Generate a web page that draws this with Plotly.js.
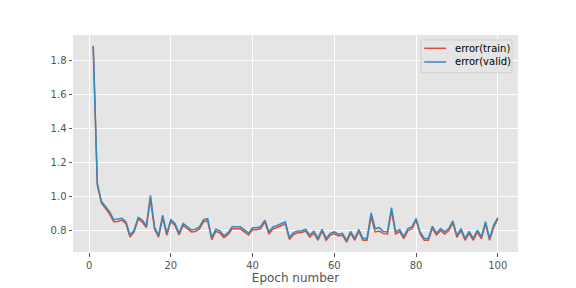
<!DOCTYPE html>
<html>
<head>
<meta charset="utf-8">
<script src="https://cdn.plot.ly/plotly-3.0.1.min.js"></script>
<style>html,body{margin:0;padding:0;background:#fff;}#chart{width:576px;height:288px;}</style>
</head>
<body>
<div id="chart"></div>
<script>
const epochs = Array.from({length: 100}, (_, i) => i + 1);
const errorValid = [
  1.885, 1.075, 0.970, 0.938, 0.909, 0.862, 0.864, 0.870, 0.850, 0.772,
  0.800, 0.876, 0.860, 0.825, 1.005, 0.818, 0.770, 0.889, 0.782, 0.862,
  0.840, 0.783, 0.840, 0.821, 0.802, 0.806, 0.820, 0.862, 0.868, 0.757,
  0.806, 0.796, 0.767, 0.786, 0.820, 0.820, 0.820, 0.802, 0.783, 0.815,
  0.815, 0.822, 0.860, 0.790, 0.820, 0.828, 0.840, 0.850, 0.757, 0.786,
  0.796, 0.796, 0.806, 0.771, 0.794, 0.752, 0.806, 0.752, 0.782, 0.790,
  0.777, 0.782, 0.741, 0.794, 0.752, 0.804, 0.752, 0.752, 0.902, 0.810,
  0.815, 0.792, 0.790, 0.933, 0.790, 0.804, 0.762, 0.810, 0.820, 0.869,
  0.790, 0.752, 0.752, 0.823, 0.784, 0.810, 0.790, 0.810, 0.855, 0.770,
  0.810, 0.752, 0.794, 0.752, 0.800, 0.762, 0.850, 0.752, 0.830, 0.875
];
const errorTrain = [
  1.880, 1.065, 0.960, 0.926, 0.895, 0.850, 0.852, 0.860, 0.838, 0.760,
  0.790, 0.866, 0.848, 0.815, 0.985, 0.806, 0.760, 0.875, 0.770, 0.852,
  0.828, 0.772, 0.830, 0.809, 0.790, 0.792, 0.808, 0.850, 0.856, 0.745,
  0.794, 0.784, 0.756, 0.775, 0.808, 0.808, 0.808, 0.790, 0.772, 0.803,
  0.803, 0.810, 0.850, 0.778, 0.808, 0.816, 0.828, 0.838, 0.746, 0.775,
  0.785, 0.786, 0.795, 0.760, 0.783, 0.741, 0.795, 0.741, 0.771, 0.779,
  0.766, 0.771, 0.730, 0.783, 0.741, 0.793, 0.741, 0.741, 0.880, 0.790,
  0.795, 0.780, 0.778, 0.915, 0.778, 0.792, 0.751, 0.798, 0.808, 0.858,
  0.778, 0.741, 0.741, 0.811, 0.772, 0.798, 0.778, 0.798, 0.843, 0.758,
  0.798, 0.741, 0.782, 0.741, 0.788, 0.750, 0.838, 0.741, 0.818, 0.865
];
const seriesNames = ['error(train)', 'error(valid)'];
const seriesColors = ['#E24A33', '#348ABD'];
const xTicks = [0, 20, 40, 60, 80, 100];
const yTicks = [0.8, 1.0, 1.2, 1.4, 1.6, 1.8];

const traces = [
  {x: epochs, y: errorTrain, name: seriesNames[0], type: 'scatter', mode: 'lines',
   line: {color: seriesColors[0], width: 1.5}},
  {x: epochs, y: errorValid, name: seriesNames[1], type: 'scatter', mode: 'lines',
   line: {color: seriesColors[1], width: 1.5}}
];

// Custom legend (matplotlib-like compact layout), in paper coordinates
const legendRows = [0.9387, 0.8756];
const shapes = [
  {type: 'rect', xref: 'paper', yref: 'paper', x0: 0.782, x1: 0.9865, y0: 0.826, y1: 0.977,
   fillcolor: '#E5E5E5', line: {color: '#cfcfcf', width: 1}, layer: 'above'}
];
const annotations = [];
seriesNames.forEach((name, i) => {
  shapes.push({type: 'line', xref: 'paper', yref: 'paper', x0: 0.7894, x1: 0.8382,
    y0: legendRows[i], y1: legendRows[i], line: {color: seriesColors[i], width: 1.5}, layer: 'above'});
  annotations.push({xref: 'paper', yref: 'paper', x: 0.853, y: legendRows[i],
    xanchor: 'left', yanchor: 'middle', text: name, showarrow: false,
    font: {family: 'DejaVu Sans, sans-serif', size: 10, color: '#000000'}});
});

const layout = {
  width: 576, height: 288,
  margin: {l: 73, r: 58, t: 35, b: 36, pad: 0},
  paper_bgcolor: '#ffffff',
  plot_bgcolor: '#E5E5E5',
  font: {family: 'DejaVu Sans, sans-serif', size: 10, color: '#555555'},
  showlegend: false,
  shapes: shapes,
  annotations: annotations,
  xaxis: {
    range: [-3.95, 104.95],
    tickvals: xTicks, ticktext: xTicks.map(String),
    ticks: 'outside', ticklen: 3.5, tickcolor: '#555555', tickwidth: 1,
    showgrid: true, gridcolor: '#ffffff', gridwidth: 1,
    zeroline: false, showline: false,
    tickfont: {size: 10, color: '#555555'},
    title: {text: 'Epoch number', font: {size: 12, color: '#555555'}, standoff: 4}
  },
  yaxis: {
    range: [0.672, 1.948],
    tickvals: yTicks, ticktext: yTicks.map(v => v.toFixed(1)),
    ticks: 'outside', ticklen: 3.5, tickcolor: '#555555', tickwidth: 1,
    showgrid: true, gridcolor: '#ffffff', gridwidth: 1,
    zeroline: false, showline: false,
    tickfont: {size: 10, color: '#555555'}
  }
};

Plotly.newPlot('chart', traces, layout, {displayModeBar: false, staticPlot: true});
</script>
</body>
</html>
